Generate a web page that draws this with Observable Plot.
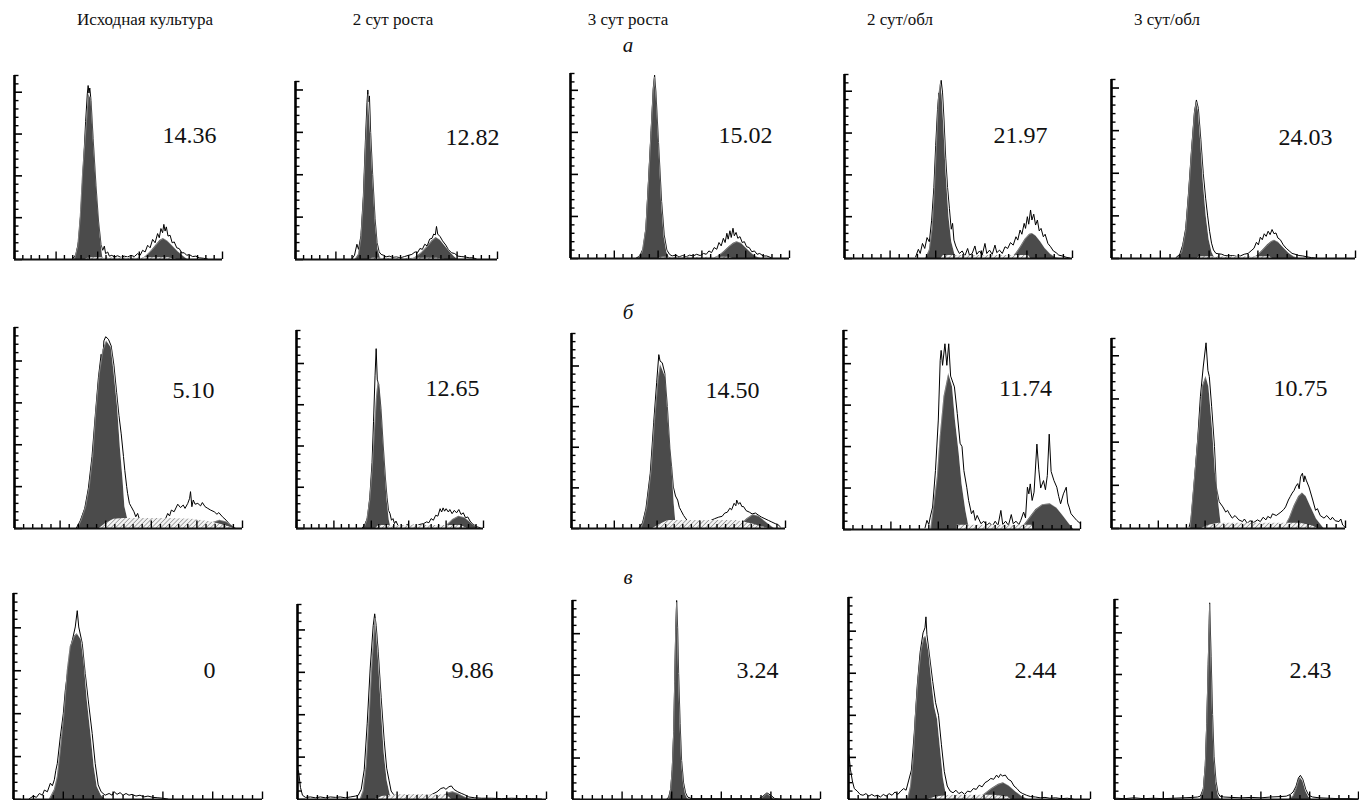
<!DOCTYPE html>
<html>
<head>
<meta charset="utf-8">
<script src="https://cdn.jsdelivr.net/npm/d3@7"></script>
<script src="https://cdn.jsdelivr.net/npm/@observablehq/plot@0.6"></script>
<style>
  body { margin: 0; background: #fff; }
  #page { position: relative; width: 1359px; height: 800px; overflow: hidden; background: #fff; font-family: "Liberation Serif", "Times New Roman", serif; }
  .hdr { position: absolute; transform: translate(-50%, -50%); font-size: 17px; white-space: nowrap; color: #111; font-family: "Liberation Serif", "Times New Roman", serif; }
  .row { position: absolute; transform: translate(-50%, -50%); font-size: 21px; font-style: italic; color: #111; font-family: "Liberation Serif", "Times New Roman", serif; }
  .panel { position: absolute; }
</style>
</head>
<body>
<svg width="0" height="0" style="position:absolute">
  <defs>
    <pattern id="hatch" patternUnits="userSpaceOnUse" width="3.2" height="3.2" patternTransform="rotate(45)">
      <rect width="3.2" height="3.2" fill="#f4f4f4"></rect>
      <line x1="0" y1="0" x2="0" y2="3.2" stroke="#8a8a8a" stroke-width="1.4"></line>
    </pattern>
  </defs>
</svg>
<div id="page"></div>
<script>
// ---------- text ----------
const columns = ["Исходная культура", "2 сут роста", "3 сут роста", "2 сут/обл", "3 сут/обл"];
const rowLetters = ["а", "б", "в"];
const indexLabels = [
  ["14.36", "12.82", "15.02", "21.97", "24.03"],
  ["5.10", "12.65", "14.50", "11.74", "10.75"],
  ["0", "9.86", "3.24", "2.44", "2.43"]
];

// ---------- axis ticks (channel units / minor tick units) ----------
const xTicks = d3.range(0, 26);
const yTickMax = [[22, 21, 22, 22, 21], [24, 24, 24, 24, 22], [24, 23, 24, 24, 24]];

// ---------- data: [channel, count] ----------
// row а
const a1Fit = [[7.2,0],[7.6,1.5],[7.9,5],[8.2,10.6],[8.6,15.8],[8.9,19.8],[9.2,19.2],[9.5,13.8],[9.9,7.8],[10.3,2.7],[10.6,0.3],[10.8,0],[15.3,0],[15.8,0.4],[16.4,1.0],[17.0,1.7],[17.5,2.3],[17.9,2.5],[18.4,2.2],[19.0,1.6],[19.7,0.9],[20.3,0.4],[20.8,0]];
const a1Raw = [[7.0,0.1],[7.4,0.6],[7.7,2.2],[8.0,6],[8.3,11.5],[8.55,16.5],[8.75,19.8],[8.85,20.8],[8.95,19.9],[9.05,20.5],[9.2,19],[9.45,14.5],[9.8,8.8],[10.1,4.6],[10.4,1.8],[10.6,1.1],[10.8,1.6],[10.95,0.7],[11.2,0.9],[11.4,0.4],[11.7,0.5],[12.0,0.3],[12.4,0.45],[12.8,0.25],[13.2,0.4],[13.6,0.3],[14.0,0.5],[14.4,0.35],[14.8,0.7],[15.1,0.5],[15.4,1.1],[15.7,0.9],[16.0,1.7],[16.3,1.4],[16.6,2.4],[16.9,2.0],[17.2,3.1],[17.4,2.6],[17.6,3.7],[17.8,3.2],[17.95,4.2],[18.1,3.4],[18.25,3.9],[18.45,2.8],[18.7,2.9],[18.95,2.0],[19.2,2.1],[19.5,1.4],[19.8,1.3],[20.1,0.8],[20.4,0.8],[20.7,0.5],[21.0,0.6],[21.4,0.35],[21.8,0.4],[22.2,0.2],[22.7,0.15],[23.2,0.05]];
const a1S = [[8.5,0],[9,0.2],[18.5,0.2],[19.5,0]];

const a2Fit = [[7.4,0],[7.8,0.6],[8.1,2.5],[8.4,7],[8.7,14],[9.0,19.5],[9.3,14.5],[9.6,9],[9.9,4],[10.2,1.2],[10.5,0.2],[10.7,0],[14.3,0],[14.9,0.3],[15.6,0.8],[16.3,1.5],[16.9,2.2],[17.4,2.6],[17.9,2.3],[18.5,1.6],[19.2,0.8],[19.7,0.3],[20.1,0]];
const a2Raw = [[7.0,0.1],[7.3,0.5],[7.6,1.8],[7.8,1.2],[8.1,2.8],[8.4,7.5],[8.65,14],[8.85,18.5],[8.95,20],[9.05,18.6],[9.15,19.3],[9.3,15],[9.55,10],[9.85,4.8],[10.1,2],[10.35,0.9],[10.6,0.6],[10.9,0.5],[11.2,0.3],[11.6,0.4],[12.0,0.25],[12.5,0.3],[13.0,0.2],[13.5,0.35],[14.0,0.5],[14.4,0.6],[14.8,0.9],[15.1,0.8],[15.4,1.3],[15.7,1.2],[16.0,1.8],[16.3,1.6],[16.6,2.4],[16.9,2.5],[17.1,3.0],[17.3,2.9],[17.45,3.9],[17.6,3.0],[17.9,2.7],[18.2,2.2],[18.6,1.7],[18.9,1.2],[19.3,0.8],[19.7,0.7],[20.1,0.4],[20.5,0.35],[21.0,0.3],[21.5,0.2],[22.0,0.2],[22.4,0.05]];
const a2S = [[9,0],[9.5,0.15],[17.5,0.15],[18.5,0]];

const a3Fit = [[7.7,0],[8.2,0.8],[8.6,3.5],[8.9,9],[9.2,15],[9.45,20],[9.6,21.6],[9.8,19],[10.1,13],[10.4,6.5],[10.7,2.5],[11.0,0.7],[11.3,0.1],[11.5,0],[16.3,0],[16.9,0.3],[17.5,0.8],[18.1,1.4],[18.6,1.8],[19.0,2.0],[19.5,1.8],[20.1,1.2],[20.7,0.6],[21.2,0.2],[21.7,0]];
const a3Raw = [[7.5,0.05],[7.9,0.3],[8.3,1.2],[8.6,3.5],[8.9,9.2],[9.2,15.2],[9.45,20.3],[9.6,21.8],[9.75,19.8],[10.05,13.8],[10.4,6.8],[10.7,2.8],[11.0,1.0],[11.3,0.5],[11.6,0.3],[12.0,0.4],[12.4,0.2],[12.8,0.35],[13.2,0.2],[13.6,0.4],[14.0,0.3],[14.4,0.5],[14.8,0.35],[15.2,0.6],[15.5,0.5],[15.8,0.9],[16.1,0.7],[16.4,1.3],[16.7,1.1],[16.95,1.9],[17.2,1.5],[17.45,2.4],[17.65,1.9],[17.85,3.0],[18.0,2.3],[18.2,3.3],[18.35,2.5],[18.55,3.6],[18.7,2.7],[18.9,3.1],[19.1,2.4],[19.35,2.6],[19.6,1.9],[19.85,2.0],[20.1,1.4],[20.4,1.3],[20.7,0.8],[21.0,0.9],[21.3,0.5],[21.6,0.6],[22.0,0.3],[22.4,0.3],[22.9,0.1]];
const a3S = [[10,0],[10.4,0.15],[18,0.15],[18.5,0]];

const a4Fit = [[8.9,0],[9.3,1.0],[9.6,3.5],[9.85,8],[10.1,14],[10.3,19],[10.5,20.9],[10.7,19.5],[10.9,15.5],[11.15,10],[11.45,5],[11.75,2],[12.1,0.5],[12.4,0],[18.3,0],[18.8,0.6],[19.3,1.4],[19.8,2.3],[20.3,2.9],[20.6,3.0],[21.0,2.7],[21.5,2.0],[22.0,1.2],[22.6,0.5],[23.2,0.1],[23.6,0]];
const a4Raw = [[7.8,0.2],[8.1,1.1],[8.3,0.6],[8.55,1.8],[8.8,1.2],[9.05,2.5],[9.3,2.0],[9.55,4.5],[9.8,8.5],[10.0,13.5],[10.2,17.8],[10.35,19.8],[10.45,19.2],[10.6,21.3],[10.75,19.8],[10.9,16.8],[11.1,12],[11.3,8.5],[11.5,6.0],[11.7,3.5],[11.85,4.2],[12.0,2.2],[12.2,1.5],[12.4,1.0],[12.6,0.6],[12.9,0.9],[13.2,0.3],[13.5,1.2],[13.7,0.4],[14.0,0.6],[14.3,1.5],[14.5,0.5],[14.8,0.9],[15.1,0.4],[15.4,1.8],[15.6,0.6],[15.9,1.0],[16.2,0.5],[16.5,1.6],[16.7,0.7],[17.0,1.0],[17.3,0.6],[17.6,1.4],[17.9,1.2],[18.2,1.9],[18.5,1.6],[18.8,2.6],[19.0,2.2],[19.25,3.4],[19.45,2.9],[19.7,4.2],[19.85,3.6],[20.05,5.0],[20.2,4.1],[20.4,5.8],[20.55,4.6],[20.75,5.3],[20.95,4.0],[21.15,4.6],[21.35,3.3],[21.55,3.6],[21.8,2.6],[22.0,2.9],[22.3,1.8],[22.6,1.4],[22.9,0.9],[23.2,0.7],[23.5,0.4],[23.9,0.3],[24.3,0.15],[24.7,0.05]];
const a4S = [[10.6,0],[10.8,0.35],[20.2,0.35],[20.4,0]];

const a5Fit = [[6.8,0],[7.2,0.8],[7.6,3.2],[7.9,7.5],[8.2,12.5],[8.5,17],[8.7,18.4],[8.9,17.3],[9.15,13.5],[9.4,9],[9.7,5],[10.0,2.2],[10.3,0.7],[10.6,0],[14.5,0],[15.0,0.4],[15.5,1.0],[16.0,1.6],[16.4,2.0],[16.7,2.15],[17.1,1.9],[17.6,1.3],[18.2,0.6],[18.7,0.2],[19.2,0]];
const a5Raw = [[6.6,0.1],[7.0,0.5],[7.3,1.6],[7.6,3.5],[7.9,7.8],[8.2,12.8],[8.5,17.2],[8.7,18.6],[8.9,17.6],[9.15,14],[9.4,10],[9.65,7],[9.85,5],[10.05,3.2],[10.25,1.8],[10.45,1.0],[10.7,0.6],[11.0,0.55],[11.3,0.5],[11.6,0.35],[12.0,0.3],[12.4,0.35],[12.8,0.25],[13.2,0.3],[13.6,0.5],[14.0,0.6],[14.3,0.9],[14.6,1.2],[14.85,1.9],[15.05,1.6],[15.25,2.5],[15.45,2.2],[15.65,2.9],[15.85,2.6],[16.05,3.2],[16.25,2.8],[16.45,3.4],[16.65,2.9],[16.85,3.0],[17.05,2.4],[17.3,2.2],[17.6,1.6],[17.9,1.2],[18.2,0.9],[18.5,0.6],[18.8,0.5],[19.2,0.35],[19.6,0.3],[20.0,0.2],[20.5,0.1],[20.9,0.05]];
const a5S = [[8.8,0],[9.0,0.2],[16.2,0.2],[16.5,0]];

// row б
const b1Fit = [[6.9,0],[7.3,1.0],[7.8,2.6],[8.2,5],[8.6,8.9],[8.9,13.7],[9.3,18.5],[9.7,21.3],[10.1,22.4],[10.6,21.6],[10.9,18.8],[11.3,14.5],[11.6,9.7],[11.9,5.8],[12.1,2.6],[12.4,1.2],[12.8,0.6],[13.2,0.2],[13.5,0],[20.3,0],[21.0,0.3],[21.7,0.7],[22.5,1.0],[23.2,0.8],[23.8,0.4],[24.2,0]];
const b1Raw = [[6.8,0.1],[7.2,0.9],[7.7,2.4],[8.1,4.8],[8.5,8.6],[8.85,13.4],[9.2,18],[9.5,20.8],[9.65,19.5],[9.8,22.4],[10.0,22.9],[10.3,22.6],[10.6,21.8],[10.9,19.5],[11.2,16.2],[11.45,13.5],[11.7,11.3],[11.95,8.6],[12.1,6.9],[12.3,5.0],[12.4,4.2],[12.6,3.0],[12.8,2.6],[13.1,2.0],[13.3,1.4],[13.5,1.8],[13.7,1.1],[13.9,1.0],[14.2,0.7],[14.6,0.8],[15.0,0.6],[15.4,0.9],[15.8,0.8],[16.2,1.1],[16.5,1.0],[16.8,1.8],[17.0,1.5],[17.2,2.2],[17.5,2.0],[17.9,2.9],[18.2,2.5],[18.5,2.8],[18.7,2.4],[19.0,3.0],[19.2,3.6],[19.3,4.4],[19.45,2.6],[19.6,3.4],[19.8,2.9],[20.1,3.0],[20.4,2.7],[20.6,3.1],[20.9,2.6],[21.2,2.4],[21.5,2.2],[21.9,2.0],[22.2,1.7],[22.4,1.9],[22.8,1.4],[23.2,1.0],[23.5,0.6],[23.9,0.2],[24.2,0.05]];
const b1S = [[9.3,0],[10.0,0.6],[10.9,1.1],[12,1.2],[17,1.2],[19.5,1.1],[21.5,0.8],[23,0.4],[24.1,0]];

const b2Fit = [[9.0,0],[9.4,1],[9.8,3.5],[10.1,7],[10.4,11.5],[10.7,16],[10.95,18.1],[11.2,16.5],[11.5,12],[11.8,7.5],[12.1,3.5],[12.4,1],[12.6,0.2],[12.8,0],[19.5,0],[20.2,0.5],[20.9,1.1],[21.7,1.5],[22.5,1.3],[23.3,0.7],[24.0,0.2],[24.5,0]];
const b2Raw = [[8.8,0.1],[9.1,0.4],[9.5,1.3],[9.8,3.8],[10.1,8],[10.3,13],[10.5,18.5],[10.65,21.8],[10.8,18],[11.0,17.5],[11.3,14.5],[11.6,10],[11.9,6],[12.1,3.8],[12.3,2.2],[12.5,1.8],[12.7,1.0],[12.9,1.2],[13.1,0.6],[13.3,0.9],[13.6,0.3],[14.0,0.4],[14.4,0.2],[14.8,0.5],[15.2,0.3],[15.6,0.4],[16.0,0.3],[16.5,0.5],[17.0,0.6],[17.4,0.8],[17.7,0.7],[18.0,1.2],[18.3,1.0],[18.6,1.6],[18.9,1.5],[19.2,2.4],[19.4,2.0],[19.6,2.5],[19.8,2.1],[20.0,2.4],[20.3,2.0],[20.5,2.3],[20.8,1.8],[21.1,2.2],[21.4,1.9],[21.7,2.3],[22.0,1.7],[22.3,1.9],[22.6,1.3],[22.9,1.4],[23.2,0.9],[23.5,0.6],[23.8,0.4],[24.2,0.2],[24.6,0.05]];
const b2S = [[10.6,0],[11,0.35],[22,0.35],[22.8,0]];

const b3Fit = [[8.1,0],[8.4,0.8],[8.8,2.7],[9.3,7.1],[9.7,13.3],[10.1,18.2],[10.4,20.2],[11.0,18.6],[11.3,13.3],[11.7,8],[12.0,3],[12.2,0.6],[12.4,0],[19.3,0],[19.8,0.5],[20.5,1.2],[21.2,1.7],[21.9,1.5],[22.6,0.9],[23.2,0.4],[23.7,0]];
const b3Raw = [[7.9,0.1],[8.3,0.7],[8.7,2.5],[9.2,6.8],[9.6,13],[9.95,18],[10.2,21.4],[10.35,20.6],[10.6,20.4],[10.9,19.1],[11.2,15],[11.5,9.8],[11.7,7.6],[11.9,5.1],[12.15,4.0],[12.4,3.5],[12.6,2.6],[12.8,2.2],[13.1,1.6],[13.3,1.3],[13.5,1.0],[13.9,0.8],[14.3,0.7],[14.7,0.8],[15.1,0.7],[15.5,0.9],[15.9,0.8],[16.3,1.0],[16.7,1.2],[17.2,1.4],[17.6,1.5],[17.9,1.9],[18.2,2.0],[18.5,2.5],[18.7,2.3],[19.0,3.1],[19.2,2.8],[19.3,3.5],[19.5,3.0],[19.7,3.2],[19.9,2.7],[20.1,2.7],[20.4,2.2],[20.8,2.0],[21.1,1.8],[21.5,1.9],[21.9,1.6],[22.2,1.4],[22.6,1.2],[23.0,1.0],[23.4,0.8],[23.8,0.6],[24.1,0.5],[24.4,0.2]];
const b3S = [[9.5,0],[10.3,0.5],[11.3,1.0],[19.3,1.0],[21,0.6],[23,0]];

const b4Fit = [[9.2,0],[9.5,2.7],[9.9,6.3],[10.2,11.2],[10.6,16],[11.1,18.8],[11.5,17.2],[11.8,13.2],[12.2,9.2],[12.5,5.5],[12.9,2.3],[13.2,0.5],[13.4,0],[18.7,0],[19.5,1.2],[20.3,2.4],[21,3.0],[21.8,3.1],[22.5,2.6],[23.2,1.6],[23.8,0.7],[24.3,0]];
const b4Raw = [[8.6,0.2],[8.8,1.1],[9.0,0.6],[9.15,1.5],[9.4,2.7],[9.7,7.1],[10.0,13.2],[10.2,20.4],[10.3,21.6],[10.45,19.8],[10.7,22.4],[10.9,19.8],[11.1,22.4],[11.3,18.5],[11.7,17.2],[12.0,14],[12.3,10.4],[12.5,10.0],[12.7,7.1],[13.0,5.1],[13.2,3.5],[13.5,1.9],[13.7,2.3],[13.9,1.1],[14.1,1.7],[14.5,0.7],[14.8,1.0],[15.1,0.5],[15.4,0.8],[15.7,0.4],[16.0,1.0],[16.3,0.5],[16.6,2.3],[16.8,0.6],[17.1,1.0],[17.4,0.5],[17.7,1.8],[17.9,0.7],[18.2,1.0],[18.5,0.6],[18.7,1.1],[19.0,2.1],[19.2,1.4],[19.4,5.1],[19.55,4.3],[19.7,5.5],[19.9,3.5],[20.1,4.5],[20.4,10.3],[20.6,7.2],[20.8,5.0],[21.1,5.9],[21.3,4.8],[21.5,6.5],[21.7,11.5],[21.9,7.0],[22.2,5.9],[22.5,5.1],[22.7,4.0],[22.9,3.1],[23.2,4.3],[23.5,5.1],[23.65,3.2],[23.8,2.7],[24.0,1.9],[24.3,1.5],[24.6,1.1],[25.0,0.7]];
const b4S = [[11.9,0],[12.0,0.5],[19.9,0.5],[20,0]];

const b5Fit = [[8.4,0],[8.6,2.5],[9.0,7.5],[9.4,12.5],[9.7,16.4],[10.1,17.6],[10.4,16.4],[10.8,11.4],[11.1,6.4],[11.5,2.5],[11.7,0.6],[11.9,0],[18.4,0],[19.0,1.2],[19.5,2.6],[20.0,3.7],[20.4,4.1],[20.8,3.7],[21.3,2.5],[21.9,1.1],[22.7,0]];
const b5Raw = [[8.3,0.2],[8.5,1.0],[8.8,4.8],[9.2,10.2],[9.5,15.3],[9.8,18.7],[10.1,21.5],[10.3,18.3],[10.45,17.6],[10.7,14.1],[11.0,9.5],[11.2,4.8],[11.5,3.1],[11.9,2.5],[12.2,1.9],[12.4,2.1],[12.6,1.7],[12.9,1.2],[13.2,1.5],[13.6,1.0],[14.0,0.8],[14.2,1.1],[14.5,0.6],[14.8,0.9],[15.2,0.7],[15.6,1.0],[15.9,0.8],[16.2,1.3],[16.5,1.0],[16.7,1.4],[17.0,1.2],[17.2,1.7],[17.6,1.5],[18.1,1.9],[18.4,2.2],[18.6,2.5],[18.9,3.3],[19.1,3.7],[19.3,4.1],[19.5,4.4],[19.7,4.9],[19.9,5.2],[20.05,4.6],[20.2,6.0],[20.4,6.4],[20.55,5.4],[20.65,6.1],[20.8,5.6],[21.1,4.8],[21.5,3.3],[21.8,2.1],[22.0,2.3],[22.3,1.5],[22.7,1.2],[23.0,1.5],[23.4,1.0],[23.6,1.3],[23.9,0.9],[24.3,0.8],[24.5,1.1],[24.7,0.4],[24.9,0.2]];
const b5S = [[9.6,0],[10.5,0.4],[11.5,0.6],[20.2,0.6],[21.5,0.3],[22,0]];

// row в
const c1Fit = [[3.6,0],[4.1,1.1],[4.4,2.6],[4.7,5.7],[5.1,10.4],[5.4,15],[5.7,17.8],[6.1,19],[6.4,19.3],[6.8,18.6],[7.1,15.8],[7.4,11.6],[7.8,7.3],[8.1,3.8],[8.4,1.5],[8.8,0.5],[9.1,0.1],[9.3,0]];
const c1Raw = [[1.6,0.1],[2.0,0.4],[2.3,0.25],[2.6,0.7],[2.9,0.5],[3.1,1.1],[3.4,0.9],[3.7,1.9],[3.9,1.6],[4.1,2.3],[4.25,3.4],[4.4,4.2],[4.7,7.3],[5.0,10],[5.2,12.7],[5.5,15.4],[5.8,18],[6.2,20.1],[6.4,22],[6.55,20.1],[6.9,18.2],[7.2,14.7],[7.5,11.6],[7.9,7.7],[8.2,4.2],[8.5,1.7],[8.8,0.9],[9.2,0.5],[9.6,0.7],[9.9,0.5],[10.1,0.9],[10.4,0.6],[10.7,0.8],[11.0,0.5],[11.3,0.7],[11.6,0.5],[11.9,0.6],[12.3,0.4],[12.7,0.5],[13.1,0.3],[13.5,0.4],[14.0,0.25],[14.5,0.2],[15.0,0.15],[15.5,0.05]];
const c1S = [];

const c2Fit = [[6.3,0],[6.6,1.0],[6.9,4],[7.2,10],[7.5,16.5],[7.8,21.4],[8.1,17],[8.4,11],[8.7,5.5],[9.0,2.2],[9.3,0.6],[9.5,0],[14.0,0],[14.6,0.4],[15.2,0.8],[15.6,0.9],[16.1,0.7],[16.8,0.3],[17.5,0]];
const c2Raw = [[0.1,3.4],[0.3,1.4],[0.5,0.5],[0.8,0.25],[1.3,0.3],[1.8,0.2],[2.3,0.3],[2.8,0.2],[3.3,0.3],[3.8,0.25],[4.3,0.3],[4.8,0.2],[5.3,0.3],[5.8,0.4],[6.1,0.5],[6.4,1.2],[6.7,3.5],[7.0,9],[7.3,15.5],[7.6,20.5],[7.75,21.9],[7.9,20.5],[8.1,17.5],[8.4,12],[8.7,7],[8.95,3.7],[9.2,2.2],[9.4,1.0],[9.7,0.5],[10.1,0.4],[10.5,0.3],[11.0,0.35],[11.5,0.3],[12.0,0.4],[12.5,0.35],[13.0,0.45],[13.5,0.6],[14.0,0.9],[14.4,1.3],[14.7,1.4],[14.9,1.2],[15.2,1.5],[15.45,1.6],[15.7,1.2],[16.1,0.9],[16.5,0.7],[16.8,0.55],[17.2,0.3],[17.8,0.2],[18.5,0.15],[19.5,0.15],[20.5,0.1],[21.5,0.15],[22.5,0.1],[23.5,0.1],[24.5,0.05]];
const c2S = [[7.8,0],[8.5,0.35],[10,0.55],[13,0.6],[15,0.5],[15.5,0]];

const c3Fit = [[9.7,0],[9.9,1.2],[10.05,3.5],[10.2,8],[10.3,14],[10.4,20],[10.5,23.8],[10.6,20.5],[10.7,15],[10.85,9],[11.0,4.5],[11.2,1.8],[11.4,0.6],[11.6,0.1],[11.8,0],[18.8,0],[19.2,0.3],[19.6,0.7],[20.0,0.4],[20.4,0]];
const c3Raw = [[9.5,0.05],[9.7,0.3],[9.9,1.3],[10.05,3.6],[10.2,8.2],[10.3,14.2],[10.4,20.2],[10.5,24],[10.6,20.7],[10.7,15.2],[10.85,9.2],[11.0,4.7],[11.2,2.0],[11.4,0.8],[11.6,0.3],[12.0,0.1],[18.8,0.1],[19.2,0.4],[19.6,0.8],[20.0,0.5],[20.4,0.1],[21,0.05]];
const c3S = [];

const c4Fit = [[6.1,0],[6.4,1.5],[6.7,5],[6.9,9.7],[7.2,14.5],[7.5,17.8],[7.8,19.2],[8.0,19.4],[8.3,17.5],[8.6,14],[8.9,11],[9.2,9.5],[9.5,6],[9.8,2.5],[10.1,0.6],[10.3,0],[13.2,0],[14.0,0.6],[14.8,1.3],[15.5,1.8],[16.0,2.0],[16.6,1.6],[17.3,0.9],[18.0,0.3],[18.6,0]];
const c4Raw = [[0.05,5.3],[0.2,3.6],[0.4,2.2],[0.6,1.3],[0.9,1.0],[1.2,0.6],[1.5,0.5],[1.8,0.7],[2.1,0.4],[2.4,0.6],[2.7,0.4],[3.0,0.5],[3.3,0.3],[3.6,0.6],[3.9,0.4],[4.2,0.7],[4.5,0.5],[4.8,0.9],[5.1,0.6],[5.4,1.0],[5.7,1.3],[5.95,1.1],[6.2,2.2],[6.5,3.5],[6.8,8],[7.1,13.5],[7.4,17.5],[7.7,19.8],[7.9,20.4],[8.0,21.7],[8.1,19.6],[8.4,16.8],[8.7,14],[9.0,11.5],[9.3,10],[9.6,6.5],[9.9,3.3],[10.2,1.6],[10.5,1.0],[10.8,0.8],[11.1,1.1],[11.4,0.7],[11.7,0.9],[12.0,0.6],[12.3,1.0],[12.6,0.9],[12.9,1.3],[13.2,1.2],[13.5,1.7],[13.8,1.5],[14.1,2.0],[14.4,2.2],[14.7,2.5],[15.0,2.4],[15.3,2.9],[15.5,2.6],[15.7,3.0],[15.9,2.8],[16.2,2.9],[16.5,2.4],[16.8,2.2],[17.1,1.6],[17.4,1.3],[17.7,0.9],[18.0,0.7],[18.4,0.5],[18.8,0.35],[19.3,0.3],[19.8,0.2],[20.3,0.25],[20.8,0.15],[21.4,0.2],[22.0,0.1],[22.6,0.15],[23.2,0.05]];
const c4S = [[8.2,0],[9,0.3],[10.5,0.5],[15,0.5],[16.5,0.3],[16.8,0]];

const c5Fit = [[8.8,0],[9.1,1.2],[9.3,4],[9.45,9],[9.6,16],[9.75,23.5],[9.9,17],[10.05,10],[10.2,5],[10.4,2],[10.6,0.6],[10.8,0.1],[11.0,0],[17.9,0],[18.3,0.4],[18.6,1.3],[18.85,2.3],[19.05,2.6],[19.3,2.2],[19.6,1.0],[19.9,0.3],[20.2,0]];
const c5Raw = [[0.2,0.15],[1.0,0.1],[2,0.2],[3,0.1],[4,0.15],[5,0.1],[6,0.15],[7,0.2],[8,0.25],[8.5,0.3],[8.8,0.4],[9.1,1.3],[9.3,4.1],[9.45,9.1],[9.6,16.2],[9.75,23.6],[9.9,17.2],[10.05,10.2],[10.2,5.2],[10.4,2.2],[10.6,0.8],[10.8,0.4],[11.2,0.3],[12,0.25],[13,0.2],[14,0.25],[15,0.2],[16,0.3],[17,0.35],[17.6,0.4],[18.0,0.6],[18.3,0.9],[18.6,1.6],[18.85,2.6],[19.05,2.9],[19.3,2.4],[19.6,1.2],[19.9,0.5],[20.3,0.3],[21,0.2],[22,0.15],[23,0.1],[24,0.1],[25,0.05]];
const c5S = [];

const fits = [[a1Fit,a2Fit,a3Fit,a4Fit,a5Fit],[b1Fit,b2Fit,b3Fit,b4Fit,b5Fit],[c1Fit,c2Fit,c3Fit,c4Fit,c5Fit]];
const raws = [[a1Raw,a2Raw,a3Raw,a4Raw,a5Raw],[b1Raw,b2Raw,b3Raw,b4Raw,b5Raw],[c1Raw,c2Raw,c3Raw,c4Raw,c5Raw]];
const sphases = [[a1S,a2S,a3S,a4S,a5S],[b1S,b2S,b3S,b4S,b5S],[c1S,c2S,c3S,c4S,c5S]];

// ---------- layout (page pixels): [left, right, top, bottom] of each panel's axes ----------
const boxes = [
  [[14,222,75,259],[295,497,81,259],[570,789,73,258],[844,1072,74,258],[1111,1355,79,258]],
  [[14,242,327,528],[296,483,330,528],[571,785,333,528],[843,1080,330,529],[1111,1345,338,528]],
  [[13,262,593,799],[297,546,604,799],[572,820,600,799],[848,1090,597,799],[1114,1358,599,799]]
];
const labelCenters = [
  [[189,135],[472,137],[745,135],[1020,135],[1305,137]],
  [[193,390],[452,388],[732,390],[1025,388],[1300,388]],
  [[209,670],[472,670],[757,670],[1035,670],[1310,670]]
];
const headerX = [145, 393, 628, 900, 1167];
const headerY = 20;
const rowLetterPos = [[628,45],[628,312],[628,577]];

// ---------- draw ----------
const page = document.getElementById("page");
columns.forEach((c, i) => {
  const d = document.createElement("div");
  d.className = "hdr"; d.textContent = c;
  d.style.left = headerX[i] + "px"; d.style.top = headerY + "px";
  page.appendChild(d);
});
rowLetters.forEach((r, i) => {
  const d = document.createElement("div");
  d.className = "row"; d.textContent = r;
  d.style.left = rowLetterPos[i][0] + "px"; d.style.top = rowLetterPos[i][1] + "px";
  page.appendChild(d);
});

const M = 3;
for (let r = 0; r < 3; r++) {
  for (let c = 0; c < 5; c++) {
    const [L, R, T, B] = boxes[r][c];
    const W = R - L, H = B - T;
    const nY = yTickMax[r][c];
    const yTicks = d3.range(0, nY + 1);
    const xMinor = xTicks.filter(t => t % 5 !== 0);
    const xMajor = xTicks.filter(t => t % 5 === 0);
    const yMinor = yTicks.filter(t => t % 5 !== 0);
    const yMajor = yTicks.filter(t => t % 5 === 0);
    const [cx, cy] = labelCenters[r][c];
    const svg = Plot.plot({
      width: W + 2 * M, height: H + 2 * M,
      marginLeft: M, marginRight: M, marginTop: M, marginBottom: M,
      style: {background: "transparent", fontFamily: "'Liberation Serif', 'Times New Roman', serif", overflow: "visible"},
      x: {domain: [0, 25], axis: null},
      y: {domain: [0, nY], axis: null},
      marks: [
        Plot.lineY(raws[r][c], {x: d => d[0], y: d => d[1], stroke: "#000", strokeWidth: 1}),
        Plot.areaY(fits[r][c], {x: d => d[0], y: d => d[1], fill: "#4b4b4b"}),
        Plot.lineY(fits[r][c], {x: d => d[0], y: d => d[1], stroke: "#ffffff", strokeWidth: 0.5, strokeOpacity: 0.6}),
        Plot.areaY(sphases[r][c], {x: d => d[0], y: d => d[1], fill: "url(#hatch)"}),
        Plot.ruleX(xMinor, {insetTop: H - 4, stroke: "#000", strokeWidth: 1.4}),
        Plot.ruleX(xMajor, {insetTop: H - 7.5, stroke: "#000", strokeWidth: 1.4}),
        Plot.ruleY(yMinor, {insetRight: W - 4.5, stroke: "#000", strokeWidth: 1.4}),
        Plot.ruleY(yMajor, {insetRight: W - 8, stroke: "#000", strokeWidth: 1.6}),
        Plot.ruleY([0], {stroke: "#111", strokeWidth: 2}),
        Plot.ruleX([0], {stroke: "#000", strokeWidth: 2.6}),
        Plot.text([indexLabels[r][c]], {
          frameAnchor: "bottom-left", dx: cx - L, dy: cy - B,
          textAnchor: "middle", lineAnchor: "middle",
          fontSize: 24, fontFamily: "'Liberation Serif', 'Times New Roman', serif", fill: "#111"
        })
      ]
    });
    const holder = document.createElement("div");
    holder.className = "panel";
    holder.style.left = (L - M) + "px";
    holder.style.top = (T - M) + "px";
    holder.style.width = (W + 2 * M) + "px";
    holder.style.height = (H + 2 * M) + "px";
    holder.appendChild(svg);
    page.appendChild(holder);
  }
}
</script>
</body>
</html>
